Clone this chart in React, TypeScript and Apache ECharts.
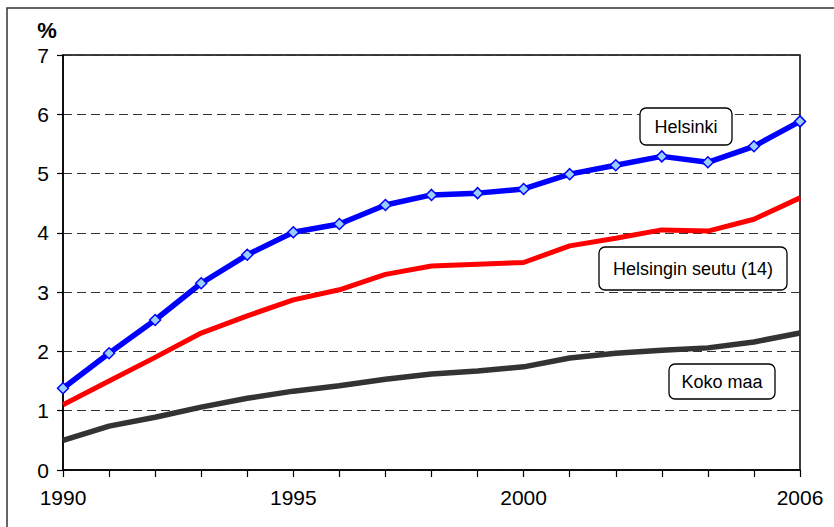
import React, { useEffect, useRef } from "react";
import * as echarts from "echarts";

const years = ["1990","1991","1992","1993","1994","1995","1996","1997","1998","1999","2000","2001","2002","2003","2004","2005","2006"];
const helsinki = [1.38, 1.97, 2.53, 3.15, 3.63, 4.01, 4.15, 4.47, 4.64, 4.67, 4.74, 4.99, 5.14, 5.29, 5.19, 5.46, 5.88];
const helsinginSeutu = [1.1, 1.5, 1.9, 2.31, 2.6, 2.87, 3.04, 3.3, 3.44, 3.47, 3.5, 3.78, 3.91, 4.05, 4.03, 4.23, 4.59];
const kokoMaa = [0.5, 0.74, 0.89, 1.06, 1.21, 1.33, 1.42, 1.53, 1.62, 1.67, 1.74, 1.89, 1.97, 2.02, 2.06, 2.16, 2.31];
const shownYearLabels = ["1990", "1995", "2000", "2006"];
const seriesNames = ["Helsinki", "Helsingin seutu (14)", "Koko maa"];

const FONT = "'Liberation Sans', Arial, sans-serif";

export default function App() {
  const ref = useRef<HTMLDivElement>(null);
  useEffect(() => {
    if (!ref.current) return;
    const chart = echarts.init(ref.current, null, { renderer: "svg" });
    const box = (x: number, y: number, w: number, h: number, label: string) => [
      {
        type: "rect",
        shape: { x, y, width: w, height: h, r: 6 },
        style: { fill: "#fff", stroke: "#000", lineWidth: 1.3 },
        z: 100,
      },
      {
        type: "text",
        x: x + w / 2,
        y: y + h / 2,
        style: {
          text: label,
          fill: "#000",
          font: `18px ${FONT}`,
          align: "center",
          verticalAlign: "middle",
        },
        z: 101,
      },
    ];
    chart.setOption({
      animation: false,
      backgroundColor: "#fff",
      grid: {
        left: 63,
        right: 34,
        top: 55,
        bottom: 57,
        show: true,
        borderColor: "#000",
        borderWidth: 1.5,
        backgroundColor: "transparent",
      },
      xAxis: {
        type: "category",
        data: years,
        boundaryGap: false,
        axisLine: { lineStyle: { color: "#000", width: 1.5 } },
        axisTick: { show: true, interval: 0, length: 7, lineStyle: { color: "#000", width: 1.2 } },
        axisLabel: {
          interval: (i: number, v: string) => shownYearLabels.includes(v),
          color: "#000",
          fontSize: 21,
          fontFamily: FONT,
          margin: 17,
        },
        splitLine: { show: false },
      },
      yAxis: {
        type: "value",
        min: 0,
        max: 7,
        interval: 1,
        axisLine: { show: true, lineStyle: { color: "#000", width: 1.5 } },
        axisTick: { show: true, length: 6, lineStyle: { color: "#000", width: 1.2 } },
        axisLabel: { color: "#000", fontSize: 21, fontFamily: FONT, margin: 14 },
        splitLine: { show: true, lineStyle: { color: "#333", type: [9, 5], width: 1 } },
      },
      series: [
        {
          name: seriesNames[0],
          type: "line",
          data: helsinki,
          lineStyle: { color: "#0000ff", width: 5.5 },
          itemStyle: { color: "#99ccff", borderColor: "#0000ff", borderWidth: 1.5 },
          symbol: "diamond",
          symbolSize: 11,
          showAllSymbol: true,
          z: 5,
        },
        {
          name: seriesNames[1],
          type: "line",
          data: helsinginSeutu,
          lineStyle: { color: "#ff0000", width: 5 },
          itemStyle: { color: "#ff0000" },
          symbol: "none",
          z: 4,
        },
        {
          name: seriesNames[2],
          type: "line",
          data: kokoMaa,
          lineStyle: { color: "#333333", width: 5.5 },
          itemStyle: { color: "#333333" },
          symbol: "none",
          z: 3,
        },
      ],
      graphic: [
        {
          type: "rect",
          shape: { x: 7, y: 8, width: 900, height: 700 },
          style: { fill: "none", stroke: "#333", lineWidth: 1.5 },
          silent: true,
        },
        {
          type: "text",
          x: 47,
          y: 30,
          style: {
            text: "%",
            fill: "#000",
            font: `bold 22px ${FONT}`,
            align: "center",
            verticalAlign: "middle",
          },
        },
        ...box(640, 108, 92, 37, seriesNames[0]),
        ...box(599, 247, 188, 43, seriesNames[1]),
        ...box(669, 364, 106, 35, seriesNames[2]),
      ],
    });
    return () => chart.dispose();
  }, []);
  return (
    <div
      ref={ref}
      style={{ position: "fixed", left: 0, top: 0, width: 834, height: 527, background: "#fff" }}
    />
  );
}
